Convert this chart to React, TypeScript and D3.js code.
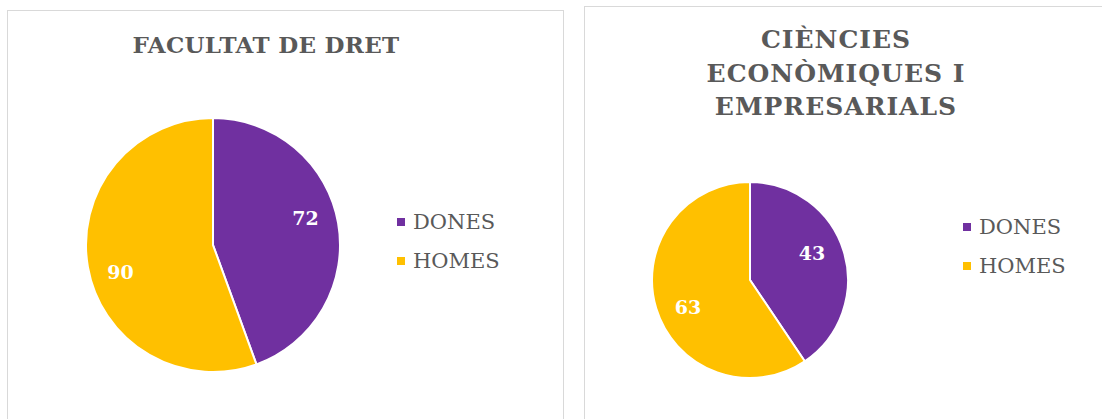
import React from "react";
import * as d3 from "d3";

const categories = ["DONES", "HOMES"];
const dretValues = [72, 90];
const economiquesValues = [43, 63];
const dretTitle = ["FACULTAT DE DRET"];
const economiquesTitle = ["CIÈNCIES", "ECONÒMIQUES I", "EMPRESARIALS"];
const colors = ["#7030A0", "#FFC000"];

const W = 1102;
const H = 419;
const FONT = "'DejaVu Serif', serif";

type PanelProps = {
  values: number[];
  title: string[];
  cx: number;
  cy: number;
  r: number;
  titleX: number;
  titleY: number;
  titleSize: number;
  titleSpacing: number;
  legendX: number;
  legendY: number;
  labelFactor: number;
};

const LABEL_ROT = (-6.5 * Math.PI) / 180;

function PiePanel({
  values,
  title,
  cx,
  cy,
  r,
  titleX,
  titleY,
  titleSize,
  titleSpacing,
  legendX,
  legendY,
  labelFactor,
}: PanelProps) {
  const pie = d3.pie<number>().sort(null).value((d) => d);
  const arcs = pie(values);
  const arc = d3.arc<d3.PieArcDatum<number>>().innerRadius(0).outerRadius(r);
  const labelArc = d3
    .arc<d3.PieArcDatum<number>>()
    .innerRadius(r * labelFactor)
    .outerRadius(r * labelFactor);
  const legendScale = d3.scaleBand<string>().domain(categories).range([0, 78]);
  return (
    <g>
      <text
        x={titleX}
        y={titleY}
        textAnchor="middle"
        fill="#595959"
        fontFamily={FONT}
        fontWeight="bold"
        fontSize={titleSize}
        letterSpacing={titleSpacing}
      >
        {title.map((line, i) => (
          <tspan key={i} x={titleX} dy={i === 0 ? 0 : 33.5}>
            {line}
          </tspan>
        ))}
      </text>
      <g transform={`translate(${cx},${cy})`}>
        {arcs.map((a, i) => (
          <path key={i} d={arc(a) || ""} fill={colors[i]} stroke="#fff" strokeWidth={2} />
        ))}
        {arcs.map((a, i) => {
          const [lx, ly] = labelArc.centroid({
            ...a,
            startAngle: a.startAngle + LABEL_ROT,
            endAngle: a.endAngle + LABEL_ROT,
          });
          return (
            <text
              key={i}
              x={lx}
              y={ly}
              textAnchor="middle"
              dominantBaseline="central"
              fill="#fff"
              fontFamily={FONT}
              fontWeight="bold"
              fontSize={19}
            >
              {values[i]}
            </text>
          );
        })}
      </g>
      <g transform={`translate(${legendX},${legendY})`}>
        {categories.map((c, i) => {
          const y = legendScale(c) || 0;
          return (
            <g key={c} transform={`translate(0,${y})`}>
              <rect x={0} y={-4} width={8} height={8} fill={colors[i]} />
              <text
                x={16}
                y={0}
                dominantBaseline="central"
                fill="#595959"
                fontFamily={FONT}
                fontSize={21}
              >
                {c}
              </text>
            </g>
          );
        })}
      </g>
    </g>
  );
}

export default function App() {
  return (
    <svg
      width={W}
      height={H}
      style={{ position: "fixed", left: 0, top: 0, background: "#fff" }}
    >
      <rect x={0} y={0} width={W} height={H} fill="#fff" />
      <rect x={7.5} y={10.5} width={556} height={430} fill="#fff" stroke="#d9d9d9" strokeWidth={1} />
      <rect x={584.5} y={6.5} width={540} height={430} fill="#fff" stroke="#d9d9d9" strokeWidth={1} />
      <PiePanel
        values={dretValues}
        title={dretTitle}
        cx={213}
        cy={245}
        r={127}
        titleX={266}
        titleY={53}
        titleSize={23}
        titleSpacing={0.3}
        legendX={397}
        legendY={222}
        labelFactor={0.76}
      />
      <PiePanel
        values={economiquesValues}
        title={economiquesTitle}
        cx={750}
        cy={280}
        r={98}
        titleX={836}
        titleY={48}
        titleSize={25}
        titleSpacing={1}
        legendX={963}
        legendY={227}
        labelFactor={0.69}
      />
    </svg>
  );
}
